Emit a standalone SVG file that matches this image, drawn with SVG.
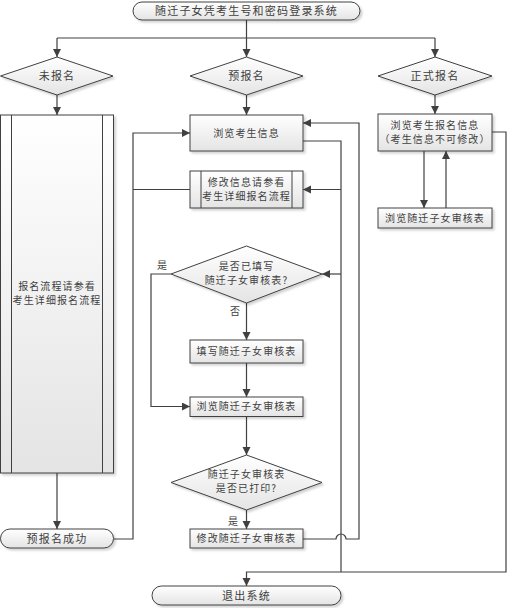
<svg xmlns="http://www.w3.org/2000/svg" width="507" height="608" viewBox="0 0 507 608">
<style>
.n{fill:url(#g);stroke:#404040;stroke-width:1;filter:url(#sh)}
.l{fill:none;stroke:#404040;stroke-width:1}
.c{fill:none;stroke:#404040;stroke-width:1.2}
.a{marker-end:url(#ar)}
text{font-family:"Noto Sans CJK SC","Liberation Sans",sans-serif;font-size:10px;fill:#404040;text-anchor:middle;letter-spacing:1.1px}
.t{font-size:11px;letter-spacing:1.2px}
.lab{text-anchor:start;letter-spacing:0}
</style>
<defs>
<linearGradient id="g" x1="0" y1="0" x2="0" y2="1">
<stop offset="0" stop-color="#ffffff"/>
<stop offset="1" stop-color="#e4e4e4"/>
</linearGradient>
<filter id="sh" x="-10%" y="-10%" width="130%" height="140%">
<feDropShadow dx="2" dy="2" stdDeviation="1" flood-color="#000" flood-opacity="0.18"/>
</filter>
<marker id="ar" markerUnits="userSpaceOnUse" markerWidth="9" markerHeight="9" refX="8" refY="4" orient="auto">
<path d="M0,0 L8,4 L0,8 z" fill="#404040"/>
</marker>
</defs>
<g id="connectors">
<path class="c" d="M246.5,20 V38 M57,38 H435"/>
<path class="c a" d="M57,38 V57"/>
<path class="c a" d="M246.5,38 V57"/>
<path class="c a" d="M435,38 V57"/>
<path class="c a" d="M57,95 V115"/>
<path class="c a" d="M246.5,95 V115"/>
<path class="c a" d="M435,95 V114"/>
<path class="c a" d="M57,473 V529"/>
<path class="c a" d="M114,539 H133 V133 H190"/>
<path class="c" d="M190,189.5 H133"/>
<path class="c" d="M303,141 H341 V572"/>
<path class="c a" d="M341,189.5 H303"/>
<path class="c a" d="M341,274 H322"/>
<path class="c a" d="M303,539 H336 A5,5 0 0 1 346,539 H359 V123 H303"/>
<path class="c a" d="M492,132 H506 V572 H246.5 V586"/>
<path class="c a" d="M424,151 V208"/>
<path class="c a" d="M446,208 V151"/>
<path class="c a" d="M171,274 H151 V406.5 H190"/>
<path class="c a" d="M246.5,303 V340"/>
<path class="c a" d="M246.5,363 V397"/>
<path class="c a" d="M246.5,416.5 V455"/>
<path class="c a" d="M246.5,510 V529"/>
<text class="lab" x="157" y="269">是</text>
<text class="lab" x="230" y="315">否</text>
<text class="lab" x="228" y="525">是</text>
</g>
<g id="start">
<rect class="n" x="133" y="2" width="227" height="18" rx="9"/>
<text class="t" x="246.5" y="15">随迁子女凭考生号和密码登录系统</text>
</g>
<g id="d-unreg">
<polygon class="n" points="0.5,76 57,57 113,76 57,95"/>
<text class="t" x="57" y="80">未报名</text>
</g>
<g id="d-prereg">
<polygon class="n" points="190,76 246.5,57 303,76 246.5,95"/>
<text class="t" x="246.5" y="80">预报名</text>
</g>
<g id="d-formal">
<polygon class="n" points="378,76 435,57 492,76 435,95"/>
<text class="t" x="435" y="80">正式报名</text>
</g>
<g id="p-regflow">
<rect class="n" x="0.5" y="115" width="113" height="358"/>
<path class="l" d="M11.5,115 V473 M102.5,115 V473"/>
<text x="57" y="290">报名流程请参看</text>
<text x="57" y="304">考生详细报名流程</text>
</g>
<g id="prereg-ok">
<rect class="n" x="0.5" y="529" width="113" height="19" rx="9.5"/>
<text class="t" x="57" y="543">预报名成功</text>
</g>
<g id="browse-info">
<rect class="n" x="190" y="115" width="113" height="36"/>
<text x="246.5" y="136.5">浏览考生信息</text>
</g>
<g id="modify-info">
<rect class="n" x="190" y="171" width="113" height="37"/>
<path class="l" d="M201,171 V208 M292,171 V208"/>
<text x="246.5" y="186">修改信息请参看</text>
<text x="246.5" y="200">考生详细报名流程</text>
</g>
<g id="d-filled">
<polygon class="n" points="171,274 246.5,246 322,274 246.5,303"/>
<text x="246.5" y="270">是否已填写</text>
<text x="246.5" y="284">随迁子女审核表?</text>
</g>
<g id="fill-form">
<rect class="n" x="190" y="340" width="113" height="23"/>
<text x="246.5" y="355">填写随迁子女审核表</text>
</g>
<g id="browse-form">
<rect class="n" x="190" y="397" width="113" height="19.5"/>
<text x="246.5" y="410">浏览随迁子女审核表</text>
</g>
<g id="d-printed">
<polygon class="n" points="171,482.5 246.5,455 322,482.5 246.5,510"/>
<text x="246.5" y="478">随迁子女审核表</text>
<text x="246.5" y="492">是否已打印?</text>
</g>
<g id="modify-form">
<rect class="n" x="190" y="529" width="113" height="19"/>
<text x="246.5" y="542">修改随迁子女审核表</text>
</g>
<g id="browse-reg">
<rect class="n" x="378" y="114" width="114" height="37"/>
<text x="435" y="129">浏览考生报名信息</text>
<text x="435" y="143">（考生信息不可修改）</text>
</g>
<g id="browse-form2">
<rect class="n" x="378" y="208" width="114" height="20"/>
<text x="435" y="221.5">浏览随迁子女审核表</text>
</g>
<g id="exit">
<rect class="n" x="152" y="586" width="189" height="19" rx="9.5"/>
<text class="t" x="246.5" y="600">退出系统</text>
</g>
</svg>
